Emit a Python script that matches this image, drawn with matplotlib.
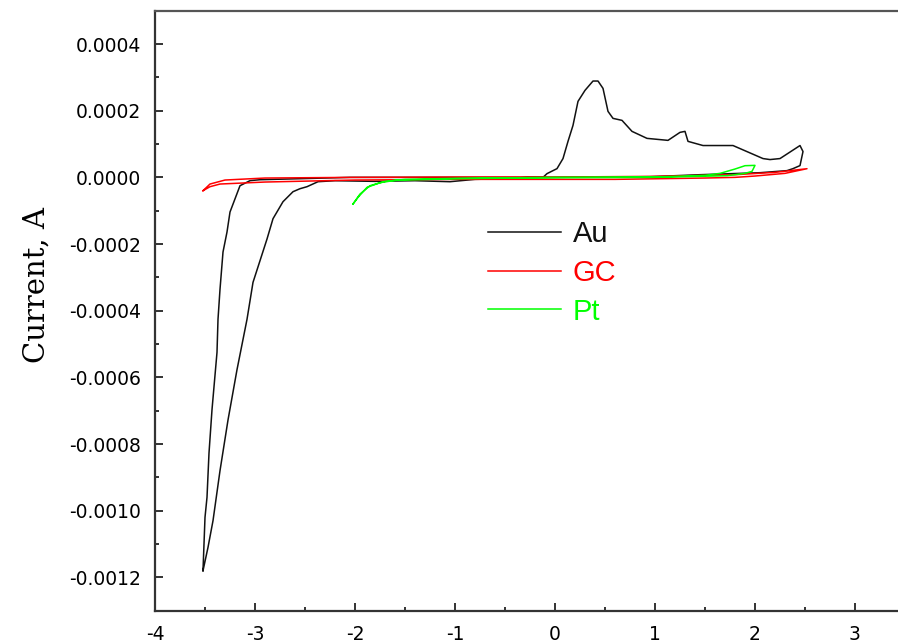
import numpy as np
import matplotlib
matplotlib.use("Agg")
import matplotlib.pyplot as plt
from matplotlib.ticker import MultipleLocator, FuncFormatter

# cyclic voltammograms (potential, current)
au_x = [-3.52, -3.47, -3.42, -3.35, -3.27, -3.18, -3.08, -3.02, -2.88, -2.82,
        -2.72, -2.62, -2.55, -2.48, -2.37, -2.2, -1.8, -1.4, -1.05, -0.8,
        -0.5, -0.28, -0.12, -0.08, 0.02, 0.08, 0.13, 0.18, 0.23, 0.30, 0.38,
        0.43, 0.48, 0.53, 0.58, 0.67, 0.77, 0.92, 1.13, 1.25, 1.30, 1.33,
        1.48, 1.78, 2.08, 2.15, 2.25, 2.45, 2.48, 2.45, 2.38, 2.32, 2.05,
        1.45, 0.95, 0.4, -0.05, -1.05, -2.05, -2.55, -2.95, -3.05, -3.15,
        -3.25, -3.28, -3.32, -3.35, -3.37, -3.38, -3.43, -3.46, -3.48, -3.50,
        -3.52]
au_y = [-0.00118, -0.00111, -0.00103, -0.00088, -0.000728, -0.000577,
        -0.000426, -0.000315, -0.000185, -0.000124, -0.000073, -0.000043,
        -0.000034, -0.000028, -0.000013, -0.000010, -0.000012, -0.000010,
        -0.000013, -0.000006, -0.000004, 0.0, 0.0, 0.0000112, 0.0000262,
        0.0000564, 0.000108, 0.000156, 0.000228, 0.000261, 0.000289,
        0.000289, 0.000267, 0.000198, 0.000177, 0.000171, 0.000138, 0.000117,
        0.000111, 0.000135, 0.000138, 0.000108, 0.0000955, 0.0000955,
        0.0000564, 0.0000534, 0.0000564, 0.0000955, 0.0000775, 0.0000353,
        0.0000262, 0.0000202, 0.000014, 0.000008, 0.000002, 0.000001, 0.0,
        0.0, 0.0, -0.000004, -0.000007, -0.0000099, -0.000025, -0.000104,
        -0.000164, -0.000224, -0.000336, -0.000426, -0.000525, -0.000697,
        -0.000827, -0.00096, -0.00102, -0.00118]

gc_x = [-3.52, -3.45, -3.3, -2.9, -2.0, -1.0, 0.0, 1.0, 1.8, 2.2, 2.52,
        2.3, 2.0, 1.8, 1.5, 0.6, 0.0, -1.0, -2.0, -2.9, -3.35, -3.45, -3.52]
gc_y = [-0.00004, -0.00002, -0.000008, -0.000002, 0.0, 0.000001, 0.000001,
        0.000003, 0.000008, 0.000015, 0.000026, 0.000012, 0.000004, 0.0,
        -0.000002, -0.000006, -0.000006, -0.000006, -0.000008, -0.000014,
        -0.00002, -0.000028, -0.00004]

pt_x = [-2.02, -1.95, -1.85, -1.7, -1.5, -1.0, 0.0, 1.0, 1.5, 1.65, 1.8,
        1.9, 2.0, 1.97, 1.9, 1.72, 1.0, 0.0, -1.0, -1.6, -1.75, -1.88,
        -1.97, -2.02]
pt_y = [-0.00008, -0.00005, -0.000025, -0.000012, -0.000006, -0.000003,
        0.0, 0.000001, 0.000006, 0.000012, 0.000025, 0.000035, 0.000036,
        0.000018, 0.000012, 0.000005, 0.0, -0.000001, -0.000004, -0.000009,
        -0.000016, -0.00003, -0.00006, -0.00008]

x_ticks = [-4, -3, -2, -1, 0, 1, 2, 3]

plt.rcParams['axes.unicode_minus'] = False
plt.rcParams['font.family'] = ['DejaVu Sans']

fig = plt.figure(figsize=(8.98, 6.42), dpi=100)
ax = fig.add_axes([155 / 898, 1 - 610.7 / 642, 800 / 898, 600 / 642])

ax.plot(au_x, au_y, color='#111111', lw=1.1, label='Au')
ax.plot(gc_x, gc_y, color='#ff0000', lw=1.1, label='GC')
ax.plot(pt_x, pt_y, color='#00ff00', lw=1.1, label='Pt')

ax.set_xlim(-4, 4)
ax.set_ylim(-0.0013, 0.0005)
ax.set_xticks(x_ticks)
ax.xaxis.set_minor_locator(MultipleLocator(0.5))
ax.yaxis.set_major_locator(MultipleLocator(0.0002))
ax.yaxis.set_minor_locator(MultipleLocator(0.0001))
ax.yaxis.set_major_formatter(
    FuncFormatter(lambda v, p: '%.4f' % (0.0 if abs(v) < 1e-12 else v)))
ax.xaxis.set_major_formatter(FuncFormatter(lambda v, p: '%d' % round(v)))

ax.tick_params(which='both', direction='in', width=1.4, color='#333333',
               top=False, right=False, labelsize=13.5)
ax.tick_params(which='major', length=6, pad=10)
ax.tick_params(which='minor', length=3)
for s in ['left', 'bottom', 'top']:
    ax.spines[s].set_linewidth(1.6)
    ax.spines[s].set_color('#333333')
ax.spines['top'].set_color('#555555')
ax.spines['right'].set_visible(False)

ax.set_ylabel('Current, A', family='DejaVu Serif', fontsize=21)
ax.yaxis.set_label_coords(-0.131, 0.543)

ax.legend(loc='upper left', bbox_to_anchor=(488 / 898, 1 - 220 / 642),
          bbox_transform=fig.transFigure, frameon=False,
          prop={'family': 'Liberation Sans', 'size': 21},
          handlelength=2.5, handletextpad=0.4, labelspacing=0.37,
          borderpad=0, borderaxespad=0, labelcolor='linecolor')

fig.savefig('out.png', dpi=100)
